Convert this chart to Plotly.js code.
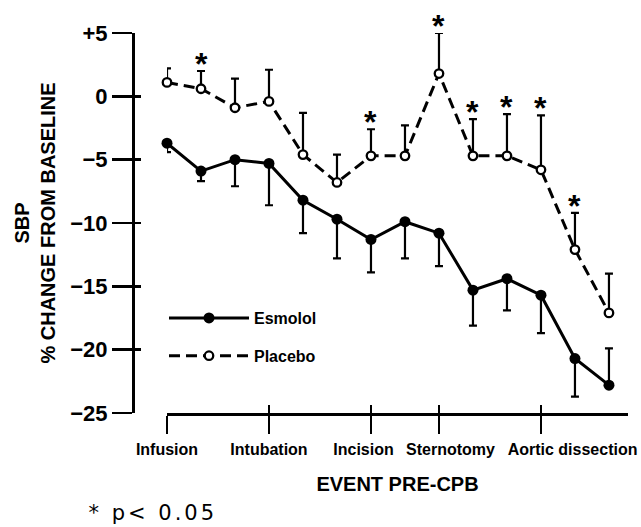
<!DOCTYPE html>
<html><head><meta charset="utf-8">
<script src="https://cdn.plot.ly/plotly-3.0.1.min.js"></script>
<style>
html,body{margin:0;padding:0;background:#fff;}
#chart{width:641px;height:527px;}
.annotation[data-index="0"] text{letter-spacing:3px;}
</style></head><body><div id="chart"></div>
<script>
// ---- data ----
const eventLabels = ['Infusion', 'Intubation', 'Incision', 'Sternotomy', 'Aortic dissection'];
const eventIndex = [0, 3, 6, 8, 11];
const yTickVals = [5, 0, -5, -10, -15, -20, -25];
const yTickText = ['+5', '0', '\u22125', '\u221210', '\u221215', '\u221220', '\u221225'];
const esmolol = [-3.7, -5.9, -5.0, -5.3, -8.2, -9.7, -11.3, -9.9, -10.8, -15.3, -14.4, -15.7, -20.7, -22.8];
const esmololErrUp = [0, 0, 0, 0, 0, 0, 0, 0, 0, 0, 0, 0, 0, 2.9];
const esmololErrDown = [0.7, 0.8, 2.1, 3.3, 2.6, 3.1, 2.6, 2.9, 2.6, 2.8, 2.5, 3.0, 3.0, 0];
const placebo = [1.1, 0.6, -0.9, -0.4, -4.6, -6.8, -4.7, -4.7, 1.8, -4.7, -4.7, -5.8, -12.1, -17.1];
const placeboErrUp = [1.1, 1.4, 2.3, 2.5, 3.3, 2.2, 2.1, 2.4, 3.2, 2.9, 3.3, 4.3, 2.9, 3.1];
const significant = [0, 1, 0, 0, 0, 0, 1, 0, 1, 1, 1, 1, 1, 0];

// ---- layout constants ----
const W = 641, H = 527, ML = 100, MR = 13, MT = 33, MB = 114;
const PW = W - ML - MR, PH = H - MT - MB;
const yAxisPos = (133 - ML) / PW;
const xStart = (167 - ML) / PW;
const xMax = 13.56;
const SANS = '"Liberation Sans", Arial, sans-serif';
const labelShift = [0, 0, -0.22, 0.34, 0.93];   // label offsets from their tick (style)

const xs = esmolol.map((_, i) => i);

// empty helper traces so the overlay axes (extra tick marks / labels) get drawn
const helper = (xa, ya) => ({x: [], y: [], type: 'scatter', mode: 'markers', xaxis: xa, yaxis: ya,
                             showlegend: false, hoverinfo: 'skip'});

const traces = [
  {
    name: 'Esmolol', x: xs, y: esmolol, type: 'scatter', mode: 'lines+markers',
    line: {color: '#000', width: 3}, marker: {symbol: 'circle', size: 11, color: '#000'},
    error_y: {type: 'data', symmetric: false, array: esmololErrUp, arrayminus: esmololErrDown,
              color: '#000', thickness: 2.2, width: 4},
    cliponaxis: false, legendgroup: 'a', hoverinfo: 'x+y'
  },
  {
    name: 'Placebo', x: xs, y: placebo, type: 'scatter', mode: 'lines+markers',
    line: {color: '#000', width: 3, dash: '11px,6px'},
    marker: {symbol: 'circle', size: 8.5, color: '#fff', line: {color: '#000', width: 2.3}},
    error_y: {type: 'data', symmetric: false, array: placeboErrUp, arrayminus: placebo.map(() => 0),
              color: '#000', thickness: 2.2, width: 4},
    cliponaxis: false, legendgroup: 'b', hoverinfo: 'x+y'
  },
  helper('x2', 'y'), helper('x3', 'y'), helper('x', 'y2')
];

const annotations = [
  {xref: 'paper', yref: 'paper', x: (100 - ML) / PW, y: -(513 - (MT + PH)) / PH, xanchor: 'left', yanchor: 'middle',
   text: '* p< 0.05', showarrow: false, font: {family: '"DejaVu Sans", sans-serif', size: 21, color: '#000'}}
];
xs.forEach(i => {
  if (significant[i]) {
    annotations.push({x: i, y: placebo[i] + placeboErrUp[i], xref: 'x', yref: 'y', text: '*',
      showarrow: false, yanchor: 'bottom', xanchor: 'center', yshift: -13,
      font: {family: SANS, size: 32, color: '#000', weight: 'bold'}});
  }
});

const noGrid = {showgrid: false, zeroline: false, fixedrange: true};

const layout = {
  width: W, height: H, margin: {l: ML, r: MR, t: MT, b: MB},
  paper_bgcolor: '#fff', plot_bgcolor: 'rgba(0,0,0,0)',
  showlegend: true,
  legend: {x: (164 - ML) / PW, y: (MT + PH - 301) / PH, xanchor: 'left', yanchor: 'top',
           traceorder: 'grouped', tracegroupgap: 14, bgcolor: 'rgba(0,0,0,0)', itemwidth: 80,
           font: {family: SANS, size: 16, color: '#000', weight: 'bold'}},
  // main x axis: line and outside tick marks at the events
  xaxis: Object.assign({
    domain: [xStart, 1], range: [0, xMax], anchor: 'y',
    showline: true, linewidth: 3, linecolor: '#000',
    ticks: 'outside', ticklen: 18, tickwidth: 2.5, tickcolor: '#000',
    tickvals: eventIndex, showticklabels: false
  }, noGrid),
  // inside part of the crossing tick marks
  xaxis2: Object.assign({
    overlaying: 'x', anchor: 'y', range: [0, xMax], tickvals: eventIndex,
    ticks: 'inside', ticklen: 8, tickwidth: 2.5, tickcolor: '#000',
    showticklabels: false, showline: false
  }, noGrid),
  // event labels and the axis title
  xaxis3: Object.assign({
    overlaying: 'x', anchor: 'y', range: [0, xMax],
    tickvals: eventIndex.map((v, i) => v + labelShift[i]), ticktext: eventLabels,
    ticks: 'outside', ticklen: 18, tickcolor: 'rgba(0,0,0,0)', tickangle: 0,
    ticklabeloverflow: 'allow', ticklabelstandoff: 4,
    tickfont: {family: SANS, size: 16, color: '#000', weight: 'bold'},
    showline: false,
    title: {text: 'EVENT PRE-CPB', standoff: 19, font: {family: SANS, size: 20, color: '#000', weight: 'bold'}}
  }, noGrid),
  yaxis: Object.assign({
    domain: [0, 1], range: [-25, 5], anchor: 'free', position: yAxisPos, side: 'left',
    showline: true, linewidth: 3, linecolor: '#000',
    ticks: 'outside', ticklen: 20, tickwidth: 2.5, tickcolor: '#000',
    tickvals: yTickVals, ticktext: yTickText,
    tickfont: {family: SANS, size: 22, color: '#000', weight: 'bold'},
    title: {text: 'SBP<br>% CHANGE FROM BASELINE', standoff: 8,
            font: {family: SANS, size: 20, color: '#000', weight: 'bold'}}
  }, noGrid),
  yaxis2: Object.assign({
    overlaying: 'y', anchor: 'free', position: yAxisPos, side: 'left', range: [-25, 5],
    tickvals: yTickVals, ticks: 'inside', ticklen: 7, tickwidth: 2.5, tickcolor: '#000',
    showticklabels: false, showline: false
  }, noGrid),
  annotations: annotations
};

Plotly.newPlot('chart', traces, layout, {displayModeBar: false, staticPlot: true});
</script></body></html>
